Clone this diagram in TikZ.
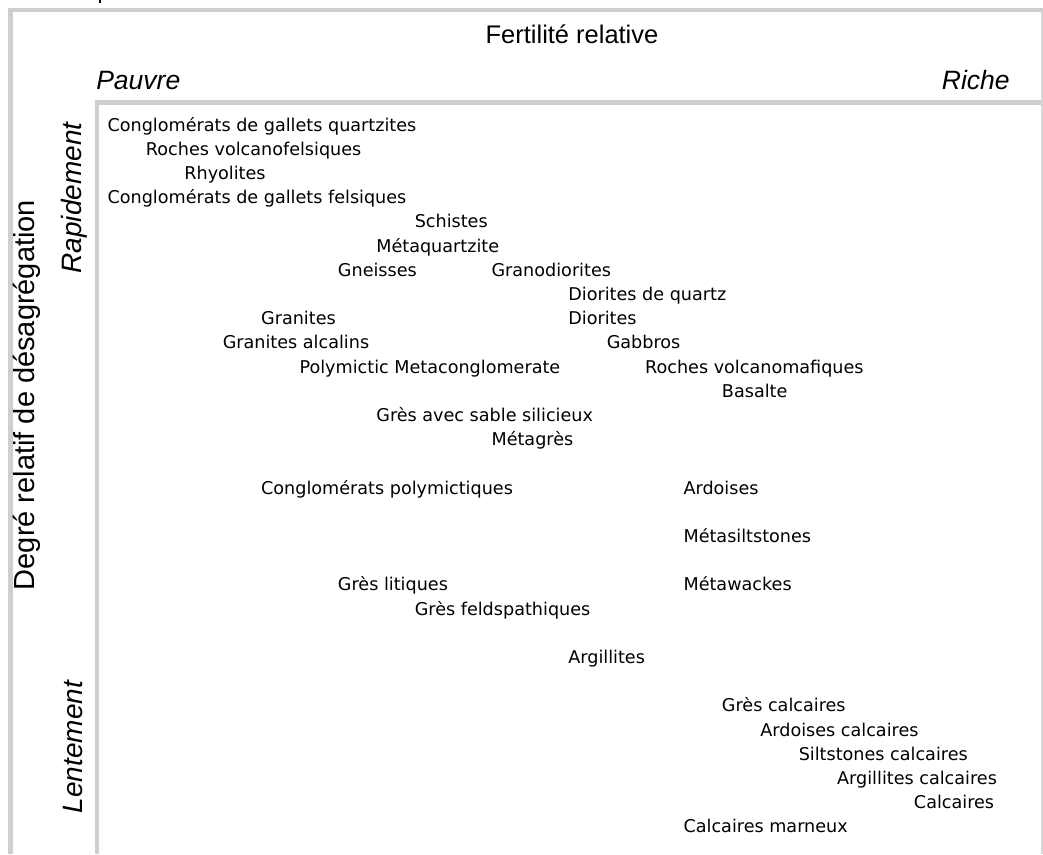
\documentclass[tikz,border=0pt]{standalone}
\usepackage{fontspec}
\setmainfont{Liberation Sans}
\newfontfamily\bodyfont{DejaVu Sans}
\definecolor{framegray}{HTML}{CFCFCF}
\definecolor{thingray}{HTML}{D8D8D8}
\tikzset{
  rock/.style={font=\bodyfont\fontsize{13.2pt}{15pt}\selectfont, anchor=base west, inner sep=0pt},
  axislabel/.style={font=\fontsize{19.1pt}{22pt}\selectfont, inner sep=0pt, anchor=base},
  polelabel/.style={font=\itshape\fontsize{19.9pt}{23pt}\selectfont, inner sep=0pt},
  sidelabel/.style={font=\itshape\fontsize{21pt}{24pt}\selectfont, inner sep=0pt, anchor=base, rotate=90},
  frame/.style={draw=framegray, line width=3.5pt, miter limit=10},
}
\newcommand{\rk}[4]{\node[rock] (#1) at ({107.3+38.4*#2},{131+24.2*#3}) {#4};}
\begin{document}
\begin{tikzpicture}[x=0.75pt,y=-0.75pt]
\useasboundingbox (0,0) rectangle (1043,854);
% frames
\draw[frame] (10.3,854) -- (10.3,10) -- (1043,10);
\draw[frame] (97,854) -- (97,102.7) -- (1043,102.7);
\draw[draw=thingray, line width=1pt] (1042,12) -- (1042,854);
\draw[black, line width=1.1pt] (100,0) -- (100,3);
% headings
\node[axislabel] (fert) at (572,43.3) {Fertilité relative};
\node[polelabel, anchor=base west] (pauvre) at (96,89.3) {Pauvre};
\node[polelabel, anchor=base east] (riche) at (1010,89.3) {Riche};
\node[sidelabel, font=\fontsize{21.75pt}{24pt}\selectfont] (degre) at (35,395) {Degré relatif de désagrégation};
\node[sidelabel] (rapide) at (81,198) {Rapidement};
\node[sidelabel] (lente) at (82.5,747) {Lentement};
% rocks
\rk{q1}{0}{0}{Conglomérats de gallets quartzites}
\rk{r1}{1}{1}{Roches volcanofelsiques}
\rk{r2}{2}{2}{Rhyolites}
\rk{c2}{0}{3}{Conglomérats de gallets felsiques}
\rk{s1}{8}{4}{Schistes}
\rk{m1}{7}{5}{Métaquartzite}
\rk{g1}{6}{6}{Gneisses}
\rk{g2}{10}{6}{Granodiorites}
\rk{d1}{12}{7}{Diorites de quartz}
\rk{g3}{4}{8}{Granites}
\rk{d2}{12}{8}{Diorites}
\rk{g4}{3}{9}{Granites alcalins}
\rk{g5}{13}{9}{Gabbros}
\rk{p1}{5}{10}{Polymictic Metaconglomerate}
\rk{r3}{14}{10}{Roches volcanomafiques}
\rk{b1}{16}{11}{Basalte}
\rk{g6}{7}{12}{Grès avec sable silicieux}
\rk{m2}{10}{13}{Métagrès}
\rk{c3}{4}{15}{Conglomérats polymictiques}
\rk{a1}{15}{15}{Ardoises}
\rk{m3}{15}{17}{Métasiltstones}
\rk{g7}{6}{19}{Grès litiques}
\rk{m4}{15}{19}{Métawackes}
\rk{g8}{8}{20}{Grès feldspathiques}
\rk{a2}{12}{22}{Argillites}
\rk{g9}{16}{24}{Grès calcaires}
\rk{a3}{17}{25}{Ardoises calcaires}
\rk{s2}{18}{26}{Siltstones calcaires}
\rk{a4}{19}{27}{Argillites calcaires}
\rk{c4}{21}{28}{Calcaires}
\rk{c5}{15}{29}{Calcaires marneux}
\end{tikzpicture}
\end{document}
